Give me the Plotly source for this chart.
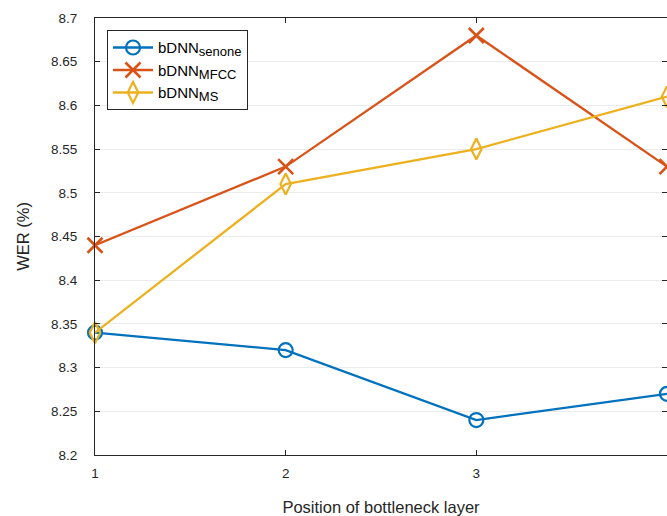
import plotly.graph_objects as go

positions = [1, 2, 3, 4]
wer_senone = [8.34, 8.32, 8.24, 8.27]
wer_mfcc = [8.44, 8.53, 8.68, 8.53]
wer_ms = [8.34, 8.51, 8.55, 8.61]
y_ticks = [8.2, 8.25, 8.3, 8.35, 8.4, 8.45, 8.5, 8.55, 8.6, 8.65, 8.7]
y_tick_labels = ["8.2", "8.25", "8.3", "8.35", "8.4", "8.45", "8.5", "8.55", "8.6", "8.65", "8.7"]
series_names = ["bDNN<sub><span style='font-size:13px'>senone</span></sub>",
                "bDNN<sub><span style='font-size:13px'>MFCC</span></sub>",
                "bDNN<sub><span style='font-size:13px'>MS</span></sub>"]

fig = go.Figure()
fig.add_trace(go.Scatter(x=positions, y=wer_senone, mode="lines+markers",
                         name=series_names[0],
                         line=dict(color="#0072BD", width=2.3),
                         marker=dict(symbol="circle-open", size=14, line=dict(width=2.2, color="#0072BD")),
                         cliponaxis=False))
fig.add_trace(go.Scatter(x=positions, y=wer_mfcc, mode="lines+markers",
                         name=series_names[1],
                         line=dict(color="#D95319", width=2.3),
                         marker=dict(symbol="x-thin-open", size=15, line=dict(width=2.6, color="#D95319")),
                         cliponaxis=False))
fig.add_trace(go.Scatter(x=positions, y=wer_ms, mode="lines+markers",
                         name=series_names[2],
                         line=dict(color="#EDB120", width=2.3),
                         marker=dict(symbol="diamond-tall-open", size=15, line=dict(width=2.2, color="#EDB120")),
                         cliponaxis=False))

font = "Liberation Sans, Arial, sans-serif"
fig.update_layout(
    width=667, height=516,
    margin=dict(l=95, r=0, t=18, b=61, autoexpand=False),
    paper_bgcolor="white", plot_bgcolor="white",
    font=dict(family=font, size=13.5, color="#262626"),
    showlegend=True,
    legend=dict(x=0.021, y=0.972, xanchor="left", yanchor="top",
                bgcolor="white", bordercolor="#262626", borderwidth=1,
                font=dict(size=15, color="#000000"), tracegroupgap=0,
                itemwidth=40),
    xaxis=dict(range=[1, 4], tickvals=positions, ticktext=[str(p) for p in positions],
               showgrid=False, zeroline=False, automargin=False,
               showline=True, linecolor="#262626", linewidth=1, mirror="ticks",
               ticks="inside", ticklen=5, tickcolor="#262626", ticklabelstandoff=6,
               title=dict(text="Position of bottleneck layer", font=dict(size=16.5), standoff=24)),
    yaxis=dict(range=[8.2, 8.7], tickvals=y_ticks, ticktext=y_tick_labels,
               showgrid=True, gridcolor="#EBEBEB", gridwidth=1, zeroline=False, automargin=False,
               showline=True, linecolor="#262626", linewidth=1, mirror="ticks",
               ticks="inside", ticklen=5, tickcolor="#262626", ticklabelstandoff=14,
               title=dict(text="WER (%)", font=dict(size=16.5), standoff=17)),
)

fig.write_html("out.html",
               config={"displayModeBar": False},
               post_script="document.body.style.margin='0';document.body.style.overflow='hidden';")
